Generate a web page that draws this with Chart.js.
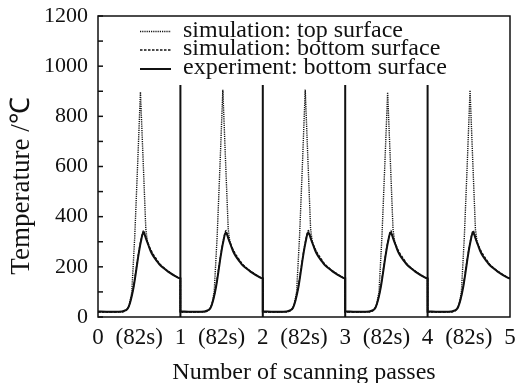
<!DOCTYPE html>
<html>
<head>
<meta charset="utf-8">
<script src="https://cdn.jsdelivr.net/npm/chart.js@4.4.1/dist/chart.umd.min.js"></script>
<style>
  html, body { margin: 0; padding: 0; background: #fff; }
</style>
</head>
<body>
<canvas id="tempChart" width="515" height="383"></canvas>
<script>
// one scanning pass = 82 s, shown as one unit on the x axis
const passes = [0, 1, 2, 3, 4];
const xTickLabel = '(82s)';

// experiment: bottom surface (position inside a pass, temperature)
const expT = [0, 0.10, 0.20, 0.29, 0.33, 0.365, 0.40, 0.43, 0.46, 0.49, 0.52, 0.55, 0.565, 0.585, 0.61, 0.64, 0.67, 0.71, 0.75, 0.80, 0.85, 0.91, 0.97, 1.0];
const expV = [22, 21, 21, 22, 26, 36, 70, 115, 178, 245, 300, 337, 330, 310, 288, 262, 243, 225, 208, 194, 181, 168, 157, 153];

// simulation: bottom surface
const botT = [0, 0.10, 0.20, 0.30, 0.34, 0.37, 0.40, 0.43, 0.46, 0.49, 0.52, 0.555, 0.57, 0.59, 0.62, 0.66, 0.70, 0.75, 0.80, 0.85, 0.91, 0.97, 1.0];
const botV = [20, 20, 20, 21, 26, 40, 72, 120, 185, 250, 305, 345, 328, 308, 283, 256, 236, 212, 196, 183, 170, 158, 154];

// simulation: top surface (peak value per pass below)
const topT = [0, 0.10, 0.20, 0.30, 0.35, 0.38, 0.41, 0.446, 0.48, 0.515, 0.547, 0.58, 0.60, 0.63, 0.67, 0.71, 0.75, 0.80, 0.85, 0.91, 0.97, 1.0];
const topV = [20, 20, 20, 21, 30, 48, 100, 321, 600, null, 630, 352, 300, 272, 245, 226, 210, 195, 182, 169, 157, 153];
const topPeaks = [897, 906, 907, 896, 904];

// vertical separators between passes
const sepX = [1, 2, 3, 4];
const sepTop = 925;

const yTicksMax = 1200;
const yTitle = 'Temperature /℃';

const FONT = '"Liberation Serif"';
const INK = '#111';

function buildSeries(tArr, vArr, peaks) {
    const pts = [];
    passes.forEach((p, i) => {
        tArr.forEach((t, j) => {
            const v = vArr[j] === null ? peaks[i] : vArr[j];
            pts.push({ x: p + t, y: v });
        });
    });
    return pts;
}

function buildSeparators() {
    const pts = [];
    sepX.forEach(x => {
        pts.push({ x: x, y: 0 });
        pts.push({ x: x, y: sepTop });
        pts.push({ x: x, y: null });
    });
    return pts;
}

// frame, inward ticks, y title and the legend inside the plot
const framePlugin = {
    id: 'frame',
    afterDraw(chart) {
        const ctx = chart.ctx;
        const a = chart.chartArea;
        const y = chart.scales.y;
        ctx.save();
        ctx.strokeStyle = INK;
        ctx.lineWidth = 1.5;
        ctx.strokeRect(a.left, a.top, a.right - a.left, a.bottom - a.top);
        y.ticks.forEach(t => {
            const py = y.getPixelForValue(t.value);
            ctx.beginPath();
            ctx.moveTo(a.left, py);
            ctx.lineTo(a.left + 5, py);
            ctx.stroke();
        });

        // y title sits a little below the middle of the axis
        ctx.save();
        ctx.translate(22, 186);
        ctx.rotate(-Math.PI / 2);
        ctx.fillStyle = INK;
        ctx.font = '27px ' + FONT;
        ctx.textAlign = 'center';
        ctx.textBaseline = 'middle';
        ctx.fillText(yTitle, 0, 0);
        ctx.restore();

        // legend
        const rows = [31.5, 50, 69];
        let r = 0;
        chart.data.datasets.forEach(ds => {
            if (!ds.label) return;
            const py = rows[r++];
            ctx.beginPath();
            ctx.lineWidth = ds.borderWidth;
            ctx.setLineDash(ds.borderDash || []);
            ctx.moveTo(140, py);
            ctx.lineTo(171, py);
            ctx.stroke();
            ctx.setLineDash([]);
            ctx.fillStyle = INK;
            ctx.font = '24px ' + FONT;
            ctx.textBaseline = 'middle';
            ctx.textAlign = 'left';
            ctx.fillText(ds.label, 183, py - 1);
        });
        ctx.restore();
    }
};

const ctx = document.getElementById('tempChart').getContext('2d');

const tempChart = new Chart(ctx, {
    type: 'line',
    data: {
        datasets: [{
            label: 'simulation: top surface',
            data: buildSeries(topT, topV, topPeaks),
            borderColor: INK,
            borderWidth: 1.4,
            borderDash: [1.2, 1],
            tension: 0,
            pointRadius: 0
        }, {
            label: 'simulation: bottom surface',
            data: buildSeries(botT, botV, null),
            borderColor: INK,
            borderWidth: 1.3,
            borderDash: [2.5, 1.5],
            cubicInterpolationMode: 'monotone',
            pointRadius: 0
        }, {
            label: 'experiment: bottom surface',
            data: buildSeries(expT, expV, null),
            borderColor: INK,
            borderWidth: 2,
            cubicInterpolationMode: 'monotone',
            pointRadius: 0
        }, {
            label: '',
            data: buildSeparators(),
            borderColor: INK,
            borderWidth: 2,
            tension: 0,
            spanGaps: false,
            pointRadius: 0
        }]
    },
    options: {
        responsive: false,
        animation: false,
        parsing: false,
        layout: {
            padding: { top: 16, right: 5, left: 0, bottom: 0 }
        },
        plugins: {
            legend: { display: false },
            tooltip: { enabled: false }
        },
        scales: {
            x: {
                type: 'linear',
                min: 0,
                max: 5,
                border: { display: false },
                grid: { display: false, drawTicks: false },
                ticks: {
                    stepSize: 0.5,
                    autoSkip: false,
                    maxRotation: 0,
                    padding: 7,
                    color: INK,
                    font: { family: FONT, size: 23, lineHeight: 1.2 },
                    callback: v => (v % 1 === 0 ? String(v) : xTickLabel)
                },
                title: {
                    display: true,
                    text: 'Number of scanning passes',
                    color: INK,
                    font: { family: FONT, size: 24, lineHeight: 0.8 },
                    padding: { top: 0, bottom: 1 }
                },
                afterFit(scale) {
                    scale.height = 66;
                    scale.paddingLeft = 0;
                    scale.paddingRight = 0;
                }
            },
            y: {
                min: 0,
                max: yTicksMax,
                border: { display: false },
                grid: { display: false, drawTicks: false },
                ticks: {
                    stepSize: 100,
                    autoSkip: false,
                    padding: 10,
                    color: INK,
                    font: { family: FONT, size: 22 },
                    callback: v => (v % 200 === 0 ? String(v) : '')
                },
                afterFit(scale) {
                    scale.width = 98;
                    scale.paddingTop = 0;
                    scale.paddingBottom = 0;
                }
            }
        }
    },
    plugins: [framePlugin]
});
</script>
</body>
</html>
